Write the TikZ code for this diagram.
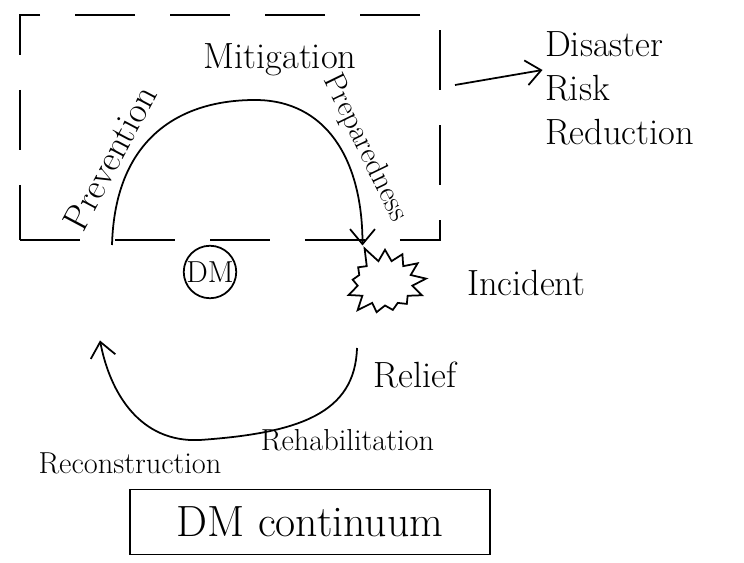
\documentclass[tikz,border=0pt]{standalone}
\usepackage{amsmath}
\usepackage{tikz}
\usetikzlibrary{positioning,shapes.symbols,arrows.meta}

\begin{document}
\begin{tikzpicture}[node distance=1cm, auto, line width=1pt, >={Straight Barb[length=3mm,width=5mm]}]
	% Define styles for the cycle
	\tikzset{
		stage/.style={
			font=\huge,
			inner sep=1pt
		},
		phase/.style={
			font=\LARGE,
			inner sep=1pt
		},
		riskbox/.style={
			draw,
			dash pattern=on 1.2cm off 0.7cm,
			minimum width=8.4cm,
			minimum height=4.5cm
		}
	}
	\useasboundingbox (0,0) rectangle (14.88,11.26);
	
	% Risk reduction frame
	\node[riskbox] (riskDM) at (4.6,8.71) {};
	
	% Centre and incident
	\node[draw, circle, minimum size=1.05cm, font=\LARGE, inner sep=0pt] (centreDM) at (4.2,5.82) {DM};
	\node[draw, starburst, random starburst=5, starburst points=13, starburst point height=0.35cm,
		minimum width=1.8cm, minimum height=1.6cm] (incidentDM) at (7.7,5.6) {};
	\node[stage, right=0.9cm of incidentDM] (incidentLabel) {Incident};
	
	% Points on the cycle
	\coordinate (upStart) at (2.24,6.36);
	\coordinate (upTop) at (5.1,9.26);
	\coordinate (lowStart) at (7.14,4.3);
	\coordinate (lowBottom) at (4.0,2.46);
	\coordinate (lowEnd) at (2.0,4.45);
	
	% Upper arc: before the incident
	\draw[->] (upStart) .. controls (2.3,8.5) and (3.6,9.26) .. (upTop)
		.. controls (6.5,9.26) and (7.25,8.1) .. (7.25,6.35);
	% Lower arc: after the incident
	\draw[->] (lowStart) .. controls (7.1,3.0) and (6.0,2.6) .. (lowBottom)
		.. controls (2.8,2.4) and (2.2,3.4) .. (lowEnd);
	
	% Phase labels
	\node[stage, rotate=62] (prevention) at (2.2,8.1) {Prevention};
	\node[stage] (mitigation) at (5.6,10.06) {Mitigation};
	\node[phase, rotate=-64] (preparedness) at (7.3,8.3) {Preparedness};
	\node[stage] (relief) at (8.3,3.75) {Relief};
	\node[phase] (reconstruction) at (2.6,2.0) {Reconstruction};
	\node[phase] (rehabilitation) at (6.95,2.45) {Rehabilitation};
	
	% Disaster risk reduction
	\node[stage, align=left, anchor=west] (drr) at (10.85,9.5) {Disaster\\Risk\\Reduction};
	\draw[->] (9.1,9.56) -- (drr.west |- 0,9.86);
	
	% Title box
	\node[draw, font=\Huge, minimum width=7.2cm, minimum height=1.3cm] (continuum) at (6.2,0.82) {DM continuum};
\end{tikzpicture}
\end{document}
